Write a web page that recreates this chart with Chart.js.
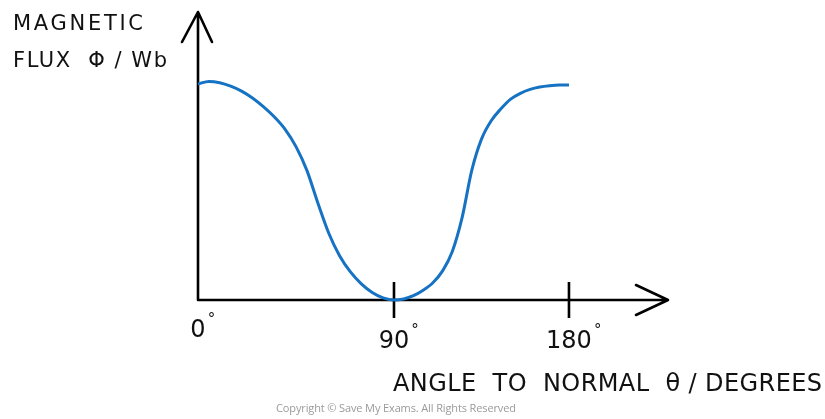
<!DOCTYPE html>
<html>
<head>
<meta charset="utf-8">
<script src="https://cdn.jsdelivr.net/npm/chart.js@4.4.1/dist/chart.umd.min.js"></script>
<style>
  html, body { margin: 0; padding: 0; background: #fff; }
</style>
</head>
<body>
<canvas id="fluxChart" width="825" height="419"></canvas>
<script>
// angle (degrees) and flux (arbitrary units, 1 = starting value)
const angles = [0, 5, 10, 15, 20, 25, 30, 35, 40, 45, 50, 55, 60, 65, 70, 75, 80, 85, 90,
  95, 100, 105, 110, 115, 120, 125, 130, 135, 140, 145, 150, 155, 160, 165, 170, 175, 180];
const flux = [1.00, 1.012, 1.006, 0.99, 0.967, 0.935, 0.895, 0.848, 0.79, 0.71, 0.60, 0.45, 0.31,
  0.205, 0.13, 0.075, 0.035, 0.01, 0,
  0.005, 0.02, 0.045, 0.08, 0.135, 0.225, 0.38, 0.60, 0.745, 0.83, 0.885, 0.93, 0.957, 0.975,
  0.986, 0.992, 0.995, 0.995];

const tickAngles = [0, 90, 180];
const tickLabels = ['0', '90', '180'];
const yTitle = ['MAGNETIC', 'FLUX  Φ / Wb'];
const xTitle = 'ANGLE  TO  NORMAL  θ / DEGREES';
const credit = 'Copyright © Save My Exams. All Rights Reserved';

const FONT = '"DejaVu Sans", sans-serif';

// the hand drawn axis is not evenly spaced: 0-90 is wider than 90-180
class SketchScale extends Chart.LinearScale {
  static id = 'sketch';
  getPixelForValue(v) {
    const a = 0.417, b = 0.3723;
    const f = v <= 90 ? v / 90 * a : a + (v - 90) / 90 * b;
    return this.getPixelForDecimal(f);
  }
}
Chart.register(SketchScale);

const fitText = (ctx, text, x, y, size, width, align, font) => {
  ctx.font = size + 'px ' + (font || FONT);
  ctx.letterSpacing = '0px';
  const w = ctx.measureText(text).width;
  const sp = width ? (width - w) / Math.max(1, text.length - 1) : 0;
  ctx.letterSpacing = sp + 'px';
  ctx.textAlign = 'left';
  let left = x;
  if (align === 'center') left = x - (width || w) / 2;
  ctx.fillText(text, left, y);
  ctx.letterSpacing = '0px';
};

const axesPlugin = {
  id: 'sketchAxes',
  beforeDatasetsDraw(chart) {
    const { ctx, chartArea: a, scales: { x } } = chart;
    ctx.save();
    ctx.strokeStyle = '#000';
    ctx.lineWidth = 2.6;
    ctx.lineCap = 'round';
    ctx.lineJoin = 'round';
    // y axis with arrow
    ctx.beginPath();
    ctx.moveTo(a.left, a.bottom);
    ctx.lineTo(a.left, a.top);
    ctx.moveTo(a.left - 16, a.top + 30);
    ctx.lineTo(a.left, a.top);
    ctx.lineTo(a.left + 14, a.top + 30);
    // x axis with arrow
    ctx.moveTo(a.left, a.bottom);
    ctx.lineTo(a.right, a.bottom);
    ctx.moveTo(a.right - 32, a.bottom - 15);
    ctx.lineTo(a.right, a.bottom);
    ctx.lineTo(a.right - 32, a.bottom + 15);
    ctx.stroke();
    // tick marks crossing the axis
    ctx.lineCap = 'butt';
    ctx.beginPath();
    tickAngles.forEach(t => {
      if (t === 0) return;
      const px = x.getPixelForValue(t);
      ctx.moveTo(px, a.bottom - 18);
      ctx.lineTo(px, a.bottom + 18);
    });
    ctx.stroke();
    ctx.restore();
  },
  afterDraw(chart) {
    const { ctx, chartArea: a, scales: { x } } = chart;
    ctx.save();
    ctx.fillStyle = '#111';
    ctx.textBaseline = 'alphabetic';
    // tick labels with degree sign
    tickAngles.forEach((t, i) => {
      const px = x.getPixelForValue(t);
      const base = t === 0 ? a.bottom + 37 : a.bottom + 48;
      ctx.font = '24px ' + FONT;
      ctx.textAlign = 'center';
      ctx.fillText(tickLabels[i], px, base);
      const w = ctx.measureText(tickLabels[i]).width;
      ctx.font = '15px ' + FONT;
      ctx.textAlign = 'left';
      ctx.fillText('°', px + w / 2 + 2, base - 13);
    });
    // axis titles
    fitText(ctx, yTitle[0], 13, 30, 21, 130);
    fitText(ctx, yTitle[1], 13, 67, 21, 154);
    fitText(ctx, xTitle, 393, 391, 24, 429);
    ctx.fillStyle = '#9a9a9a';
    fitText(ctx, credit, 396, 412, 11, 240, 'center', '"Open Sans", sans-serif');
    ctx.restore();
  }
};

new Chart(document.getElementById('fluxChart').getContext('2d'), {
  type: 'line',
  data: {
    datasets: [{
      data: angles.map((v, i) => ({ x: v, y: flux[i] })),
      borderColor: '#1672c2',
      borderWidth: 3,
      pointRadius: 0,
      cubicInterpolationMode: 'monotone',
      fill: false
    }]
  },
  options: {
    responsive: false,
    animation: false,
    clip: false,
    layout: { padding: { left: 198, right: 157, top: 12, bottom: 119 } },
    scales: {
      x: { type: 'sketch', min: 0, max: 231, display: false },
      y: { type: 'linear', min: 0, max: 4 / 3, display: false }
    },
    plugins: {
      legend: { display: false },
      tooltip: { enabled: false }
    }
  },
  plugins: [axesPlugin]
});
</script>
</body>
</html>
